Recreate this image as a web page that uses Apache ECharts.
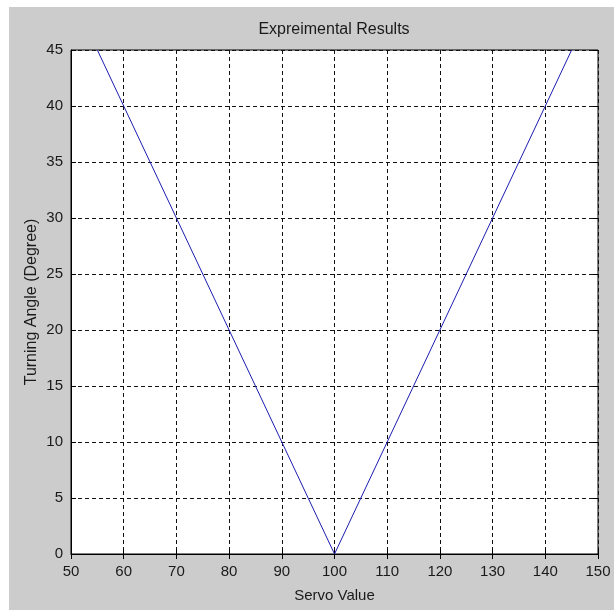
<!DOCTYPE html>
<html>
<head>
<meta charset="utf-8">
<script src="https://cdn.jsdelivr.net/npm/echarts@6/dist/echarts.min.js"></script>
<style>
  html, body { margin: 0; padding: 0; background: #fff; }
  #main { width: 614px; height: 610px; }
</style>
</head>
<body>
<div id="main"></div>
<script>
// servo value vs turning angle
var servoValues = [55, 60, 70, 80, 90, 100, 110, 120, 130, 140, 145];
var turningAngles = [45, 40, 30, 20, 10, 0, 10, 20, 30, 40, 45];

var xTicks = { min: 50, max: 150, step: 10 };
var yTicks = { min: 0, max: 45, step: 5 };

var font = 'Liberation Sans, Arial, Helvetica, sans-serif';
var txt = '#1a1a1a';

var points = servoValues.map(function (v, i) {
  return [v, turningAngles[i]];
});

var chart = echarts.init(document.getElementById('main'));

var dashed = { show: true, lineStyle: { color: '#111', width: 1, type: [4, 3] } };

chart.setOption({
  backgroundColor: '#ffffff',
  animation: false,
  title: {
    text: 'Expreimental Results',
    left: 334,
    top: 22,
    textAlign: 'center',
    padding: 0,
    textStyle: { fontFamily: font, fontSize: 16, fontWeight: 'normal', color: txt }
  },
  graphic: [{
    type: 'rect',
    z: -100,
    silent: true,
    shape: { x: 9, y: 7, width: 605, height: 603 },
    style: { fill: '#cccccc' }
  }],
  grid: {
    left: 71, right: 16, top: 50, bottom: 56,
    show: true,
    backgroundColor: '#ffffff',
    borderColor: '#000',
    borderWidth: 1
  },
  xAxis: [{
    type: 'value',
    min: xTicks.min, max: xTicks.max, interval: xTicks.step,
    name: 'Servo Value',
    nameLocation: 'middle',
    nameGap: 34,
    nameTextStyle: { fontFamily: font, fontSize: 15, color: txt },
    axisLine: { show: true, lineStyle: { color: '#000' } },
    axisTick: { show: true, inside: true, length: 5, lineStyle: { color: '#000' } },
    axisLabel: { fontFamily: font, fontSize: 15, color: txt, margin: 10 },
    splitLine: dashed
  }, {
    type: 'value',
    position: 'top',
    min: xTicks.min, max: xTicks.max, interval: xTicks.step,
    axisLine: { show: false },
    axisTick: { show: true, inside: true, length: 5, lineStyle: { color: '#000' } },
    axisLabel: { show: false },
    splitLine: { show: false }
  }],
  yAxis: [{
    type: 'value',
    min: yTicks.min, max: yTicks.max, interval: yTicks.step,
    name: 'Turning Angle (Degree)',
    nameLocation: 'middle',
    nameGap: 31,
    nameMoveOverlap: false,
    nameTextStyle: { fontFamily: font, fontSize: 16, color: txt },
    axisLine: { show: true, lineStyle: { color: '#000' } },
    axisTick: { show: true, inside: true, length: 5, lineStyle: { color: '#000' } },
    axisLabel: { fontFamily: font, fontSize: 15, color: txt, margin: 8 },
    splitLine: dashed
  }, {
    type: 'value',
    position: 'right',
    min: yTicks.min, max: yTicks.max, interval: yTicks.step,
    axisLine: { show: false },
    axisTick: { show: true, inside: true, length: 5, lineStyle: { color: '#000' } },
    axisLabel: { show: false },
    splitLine: { show: false }
  }],
  series: [{
    type: 'line',
    data: points,
    showSymbol: false,
    lineStyle: { color: '#1c1cb0', width: 1 },
    z: 5
  }]
});
</script>
</body>
</html>
